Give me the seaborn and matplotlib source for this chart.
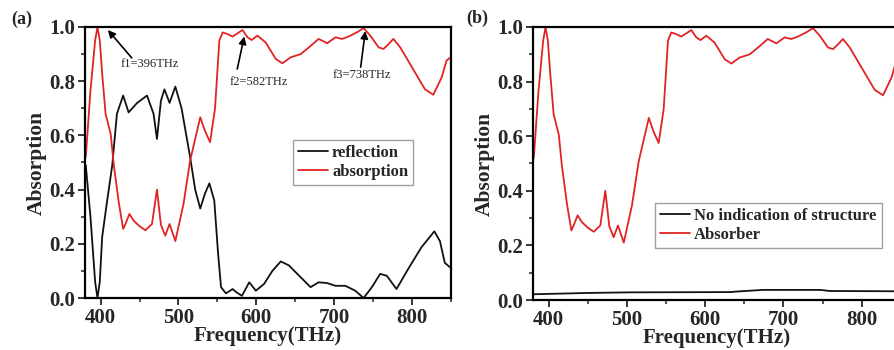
import matplotlib
matplotlib.use("Agg")
import matplotlib.pyplot as plt
import seaborn as sns
import pandas as pd
from matplotlib.ticker import MultipleLocator

# ---------------- data ----------------
freq_abs = [381, 387, 393, 396, 399, 402, 406.4, 413, 417, 423.5, 429, 431.5, 437, 442.6, 450, 457.6,
            466, 472.4, 477.5, 483, 488.6, 496, 506.5, 515, 528, 534, 540.6, 547, 552.5,
            556.7, 563, 569.5, 576, 582.3, 588.7, 594, 601.5, 612, 625, 633.4, 644, 657,
            669.7, 680, 691, 701.6, 710, 718.6, 729, 737.8, 746.4, 757, 763.4, 769.8, 776,
            784.7, 797.5, 816.6, 827.3, 838, 844.3, 848]
absorption = [0.52, 0.765, 0.95, 1.0, 0.95, 0.83, 0.68, 0.605, 0.49, 0.35, 0.255, 0.27, 0.31, 0.285,
              0.265, 0.25, 0.273, 0.40, 0.27, 0.23, 0.273, 0.21, 0.347, 0.507, 0.667, 0.617,
              0.575, 0.70, 0.95, 0.98, 0.974, 0.965, 0.977, 0.989, 0.962, 0.952, 0.968,
              0.943, 0.882, 0.866, 0.888, 0.90, 0.93, 0.956, 0.94, 0.962, 0.956, 0.965,
              0.98, 0.996, 0.968, 0.925, 0.919, 0.937, 0.956, 0.925, 0.863, 0.77, 0.75,
              0.814, 0.876, 0.885]

freq_ref = [381, 387, 393, 396, 399, 402, 408.5, 415, 421, 429, 436, 447, 459.6, 468, 472.4, 477.5,
            482, 488.6, 496, 504, 515, 521.5, 528, 534, 539.7, 546, 551, 554.7, 561, 569.5,
            575, 581.5, 590.9, 599.4, 610, 620.6, 631.4, 642, 652.6, 669.7, 680, 691,
            701.6, 714.4, 727, 737.8, 748.4, 759, 767.6, 780, 795, 812, 828.6, 835.8, 842, 848]
reflection = [0.49, 0.30, 0.06, 0.0, 0.06, 0.224, 0.36, 0.49, 0.68, 0.747, 0.685, 0.72, 0.747, 0.68,
              0.587, 0.728, 0.77, 0.72, 0.78, 0.70, 0.52, 0.40, 0.33, 0.385, 0.423, 0.36,
              0.16, 0.04, 0.017, 0.033, 0.02, 0.008, 0.058, 0.027, 0.052, 0.10, 0.135, 0.12,
              0.089, 0.04, 0.058, 0.055, 0.045, 0.045, 0.027, 0.0, 0.04, 0.089, 0.082,
              0.033, 0.107, 0.187, 0.246, 0.21, 0.13, 0.115]

freq_bare = [380, 453, 504, 632, 640, 674, 747, 759, 842, 850]
bare = [0.021, 0.026, 0.028, 0.029, 0.031, 0.037, 0.037, 0.033, 0.032, 0.032]

annotations = [("f1=396THz", (409.4, 0.989), (440, 0.886), (463, 0.862)),
               ("f2=582THz", (584.5, 0.965), (575.5, 0.845), (603.6, 0.797)),
               ("f3=738THz", (740, 0.985), (734, 0.852), (735, 0.823))]

xticks = [400, 500, 600, 700, 800]
yticks = [0.0, 0.2, 0.4, 0.6, 0.8, 1.0]

RED = "#e02424"
BLACK = "#111111"

sns.set_style("ticks")
plt.rcParams["font.family"] = ["Liberation Serif", "DejaVu Serif"]
plt.rcParams["font.weight"] = "bold"

fig = plt.figure(figsize=(8.95, 3.5), dpi=100)
ax1 = fig.add_axes([85 / 895, 52 / 350, 366 / 895, 271 / 350])
ax2 = fig.add_axes([533 / 895, 50 / 350, 367.8 / 895, 273 / 350])

df_ref = pd.DataFrame({"f": freq_ref, "v": reflection})
df_abs = pd.DataFrame({"f": freq_abs, "v": absorption})
df_bare = pd.DataFrame({"f": freq_bare, "v": bare})

sns.lineplot(data=df_ref, x="f", y="v", ax=ax1, color=BLACK, lw=1.3, label="reflection")
sns.lineplot(data=df_abs, x="f", y="v", ax=ax1, color=RED, lw=1.3, label="absorption")

sns.lineplot(data=df_bare, x="f", y="v", ax=ax2, color=BLACK, lw=1.3,
             label="No indication of structure")
sns.lineplot(data=df_abs, x="f", y="v", ax=ax2, color=RED, lw=1.3, label="Absorber")

for ax in (ax1, ax2):
    ax.set_xlim(380, 850)
    ax.set_ylim(0, 1.0)
    ax.set_xticks(xticks)
    ax.set_yticks(yticks)
    ax.set_yticklabels([f"{t:.1f}" for t in yticks])
    ax.xaxis.set_minor_locator(MultipleLocator(50))
    ax.yaxis.set_minor_locator(MultipleLocator(0.1))
    ax.tick_params(axis="both", which="major", direction="out", length=5, width=1.3,
                   labelsize=15, pad=2)
    ax.tick_params(axis="both", which="minor", direction="out", length=3, width=1.1)
    for lab in ax.get_xticklabels() + ax.get_yticklabels():
        lab.set_fontweight("bold")
    for sp in ax.spines.values():
        sp.set_visible(True)
        sp.set_linewidth(1.6)
        sp.set_color("black")
    ax.set_xlabel("Frequency(THz)", fontsize=15, fontweight="bold", labelpad=-1)
    ax.set_ylabel("Absorption", fontsize=15.5, fontweight="bold", labelpad=2)

leg1 = ax1.legend(loc="lower left", bbox_to_anchor=(0.568, 0.417), borderaxespad=0,
                  handlelength=1.8, handletextpad=0.25, borderpad=0.3,
                  labelspacing=0.2, fancybox=False, frameon=True, edgecolor="#888888",
                  prop={"weight": "bold", "size": 12})
leg1.get_frame().set_linewidth(1.0)
leg2 = ax2.legend(loc="lower left", bbox_to_anchor=(0.332, 0.19), borderaxespad=0,
                  handlelength=1.8, handletextpad=0.25, borderpad=0.3,
                  labelspacing=0.2, fancybox=False, frameon=True, edgecolor="#888888",
                  prop={"weight": "bold", "size": 12})
leg2.get_frame().set_linewidth(1.0)

for text, tip, tail, pos in annotations:
    ax1.annotate("", xy=tip, xytext=tail,
                 arrowprops=dict(arrowstyle="-|>", color="black", lw=1.2,
                                 mutation_scale=11, shrinkA=0, shrinkB=0))
    ax1.text(pos[0], pos[1], text, fontsize=9, fontweight="normal",
             ha="center", va="center")

fig.text(22 / 895, 1 - 19 / 350, "(a)", fontsize=13, fontweight="bold",
         ha="center", va="center")
fig.text(477 / 895, 1 - 18 / 350, "(b)", fontsize=13, fontweight="bold",
         ha="center", va="center")

fig.savefig("out.png", dpi=100)
